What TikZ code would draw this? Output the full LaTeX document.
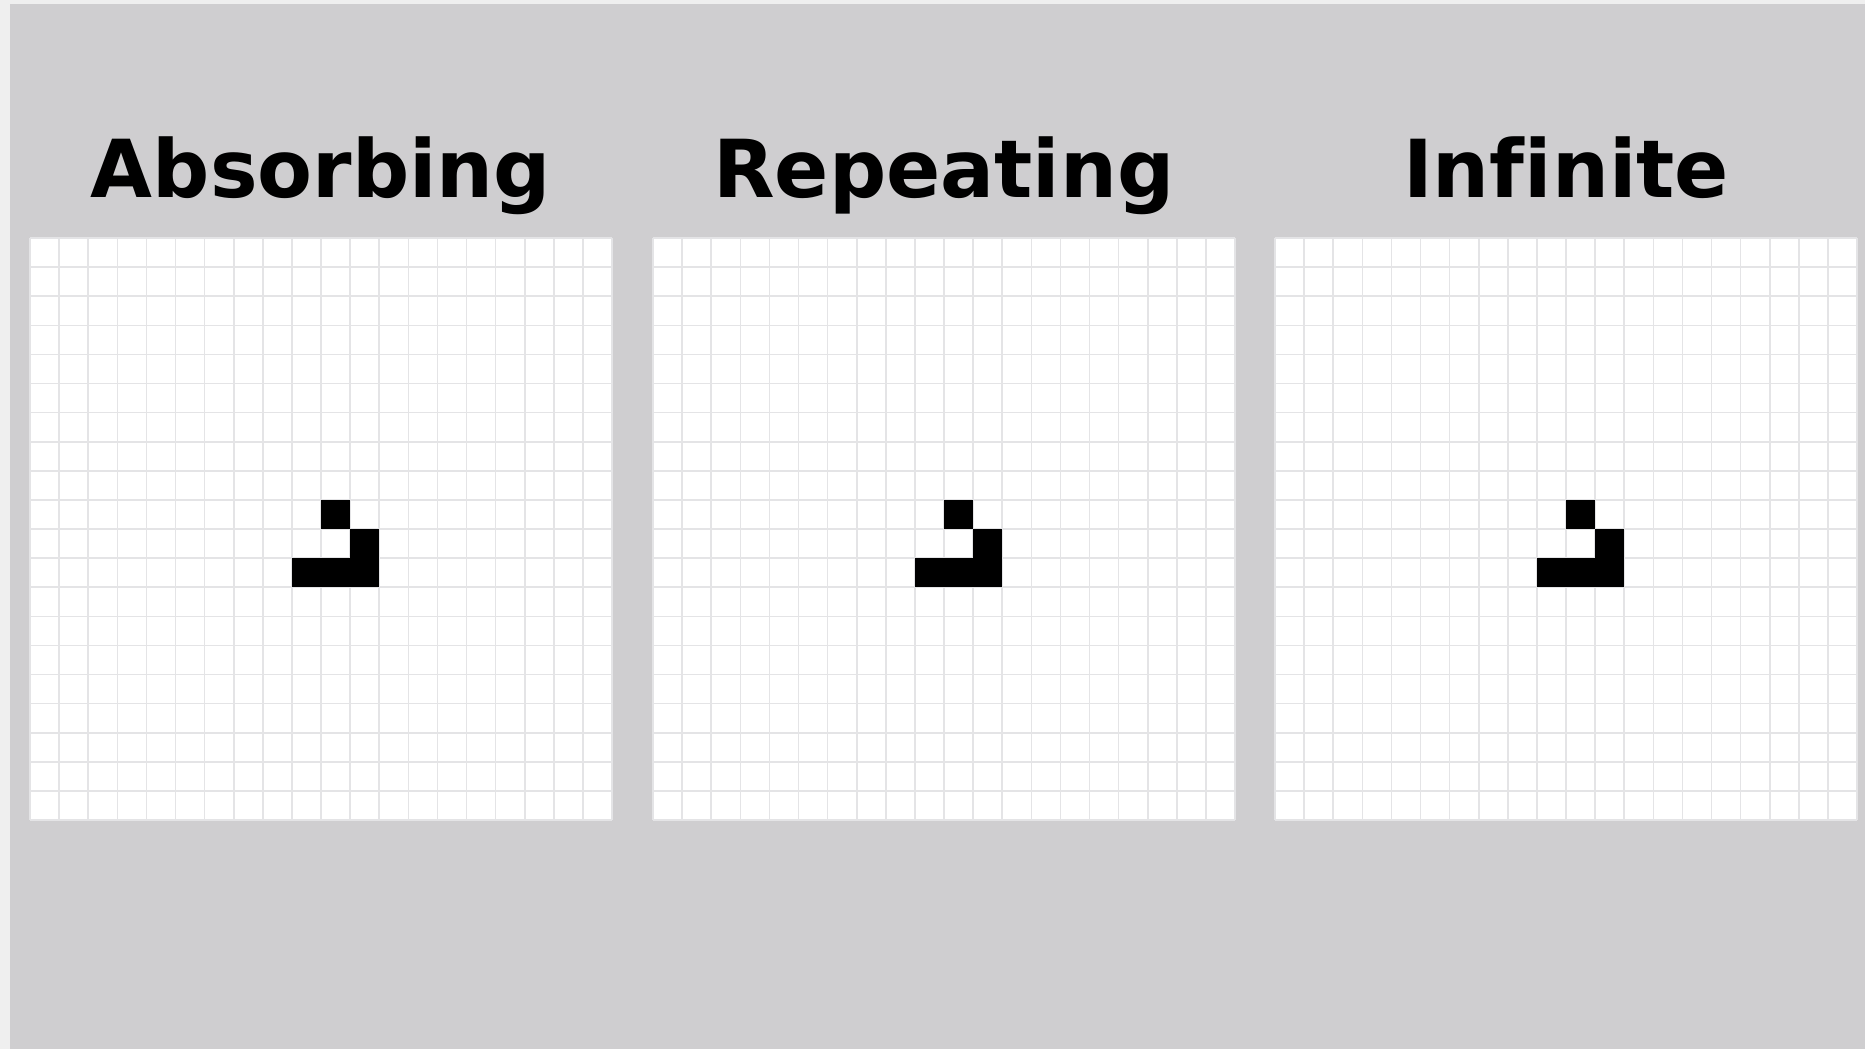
\documentclass[tikz,border=0pt]{standalone}
\usepackage{fontspec}
\setmainfont{DejaVu Sans}[Ligatures=NoCommon]
\definecolor{sfondo}{HTML}{CFCED0}
\definecolor{bordo}{HTML}{EFEFEF}
\definecolor{reticolo}{HTML}{E4E4E6}
\tikzset{
  titolo/.style={font=\bfseries\fontsize{80}{96}\selectfont, anchor=base, inner sep=0pt},
  linea/.style={reticolo, line width=1.6pt}
}
\begin{document}
\begin{tikzpicture}[x=1pt,y=-1pt]

% sfondo
\fill[bordo] (0,0) rectangle (1865,1049);
\fill[sfondo] (10,4) rectangle (1865,1049);
\useasboundingbox (0,0) rectangle (1865,1049);

% titoli
\node[titolo] (tass) at (321,197) {Absorbing};
\node[titolo] (trip) at (944,197) {Repeating};
\node[titolo] (tinf) at (1566,197) {Infinite};

% griglie 20x20 con aliante
\foreach \x in {30,653,1275}{
  \fill[white] (\x,238) rectangle ++(582,582);
  \foreach \i in {0,...,20}{
    \draw[linea] (\x+\i*29.1,238) -- ++(0,582);
    \draw[linea] (\x,238+\i*29.1) -- ++(582,0);
  }
  \foreach \c/\r in {10/9,11/10,9/11,10/11,11/11}
    \fill[black] (\x+\c*29.1,238+\r*29.1) rectangle ++(29.1,29.1);
}

\end{tikzpicture}
\end{document}
